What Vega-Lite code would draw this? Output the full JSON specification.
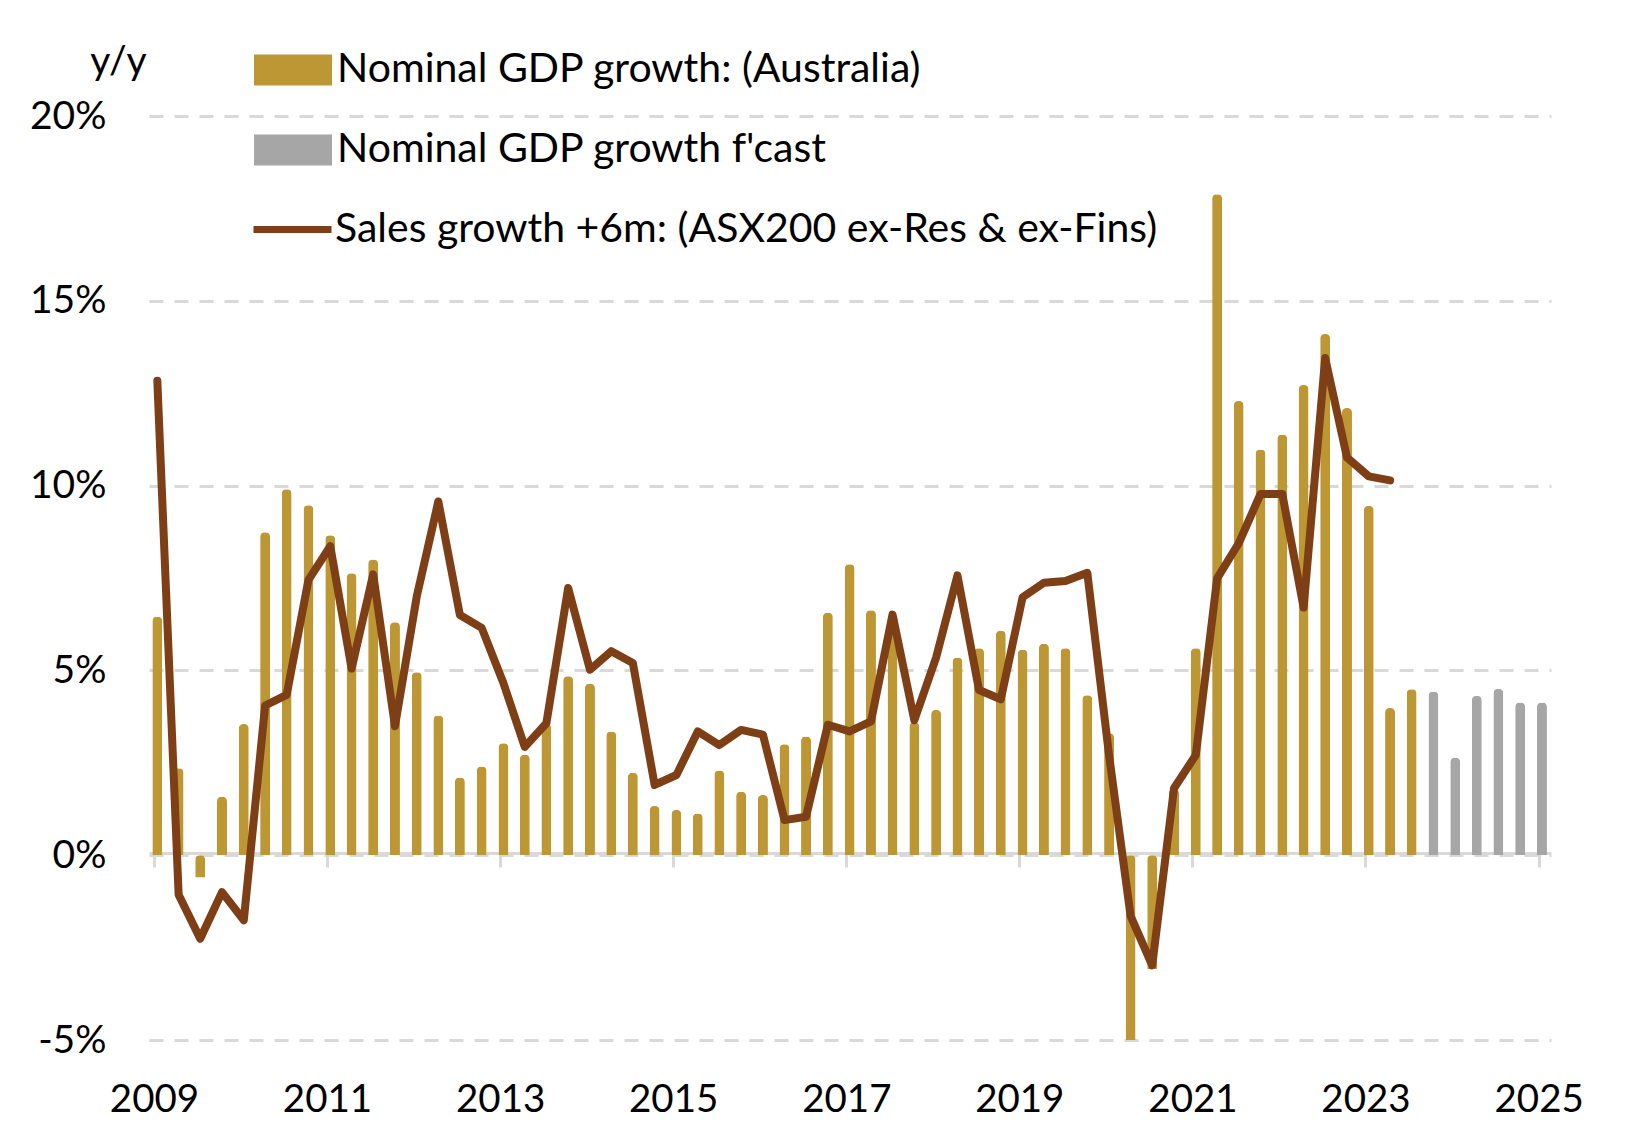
{
  "$schema": "https://vega.github.io/schema/vega-lite/v6.json",
  "description": "Australian nominal GDP growth (actual and forecast bars) against ASX200 ex-Res & ex-Fins sales growth shifted +6m.",
  "width": 1402,
  "height": 924,
  "autosize": {"type": "none"},
  "padding": {"left": 149, "top": 116, "right": 93, "bottom": 106},
  "background": "white",
  "config": {"font": "Lato", "view": {"stroke": null}},
  "datasets": {
    "gdp": [
      {"date": "2009-01-15", "growth": 6.45, "series": "Nominal GDP growth: (Australia)"},
      {"date": "2009-04-15", "growth": 2.35, "series": "Nominal GDP growth: (Australia)"},
      {"date": "2009-07-15", "growth": -0.6, "series": "Nominal GDP growth: (Australia)"},
      {"date": "2009-10-15", "growth": 1.58, "series": "Nominal GDP growth: (Australia)"},
      {"date": "2010-01-15", "growth": 3.55, "series": "Nominal GDP growth: (Australia)"},
      {"date": "2010-04-15", "growth": 8.74, "series": "Nominal GDP growth: (Australia)"},
      {"date": "2010-07-15", "growth": 9.9, "series": "Nominal GDP growth: (Australia)"},
      {"date": "2010-10-15", "growth": 9.47, "series": "Nominal GDP growth: (Australia)"},
      {"date": "2011-01-15", "growth": 8.66, "series": "Nominal GDP growth: (Australia)"},
      {"date": "2011-04-15", "growth": 7.63, "series": "Nominal GDP growth: (Australia)"},
      {"date": "2011-07-15", "growth": 8.0, "series": "Nominal GDP growth: (Australia)"},
      {"date": "2011-10-15", "growth": 6.3, "series": "Nominal GDP growth: (Australia)"},
      {"date": "2012-01-15", "growth": 4.95, "series": "Nominal GDP growth: (Australia)"},
      {"date": "2012-04-15", "growth": 3.78, "series": "Nominal GDP growth: (Australia)"},
      {"date": "2012-07-15", "growth": 2.1, "series": "Nominal GDP growth: (Australia)"},
      {"date": "2012-10-15", "growth": 2.4, "series": "Nominal GDP growth: (Australia)"},
      {"date": "2013-01-15", "growth": 3.03, "series": "Nominal GDP growth: (Australia)"},
      {"date": "2013-04-15", "growth": 2.72, "series": "Nominal GDP growth: (Australia)"},
      {"date": "2013-07-15", "growth": 3.55, "series": "Nominal GDP growth: (Australia)"},
      {"date": "2013-10-15", "growth": 4.84, "series": "Nominal GDP growth: (Australia)"},
      {"date": "2014-01-15", "growth": 4.64, "series": "Nominal GDP growth: (Australia)"},
      {"date": "2014-04-15", "growth": 3.35, "series": "Nominal GDP growth: (Australia)"},
      {"date": "2014-07-15", "growth": 2.23, "series": "Nominal GDP growth: (Australia)"},
      {"date": "2014-10-15", "growth": 1.33, "series": "Nominal GDP growth: (Australia)"},
      {"date": "2015-01-15", "growth": 1.22, "series": "Nominal GDP growth: (Australia)"},
      {"date": "2015-04-15", "growth": 1.13, "series": "Nominal GDP growth: (Australia)"},
      {"date": "2015-07-15", "growth": 2.29, "series": "Nominal GDP growth: (Australia)"},
      {"date": "2015-10-15", "growth": 1.72, "series": "Nominal GDP growth: (Australia)"},
      {"date": "2016-01-15", "growth": 1.63, "series": "Nominal GDP growth: (Australia)"},
      {"date": "2016-04-15", "growth": 3.0, "series": "Nominal GDP growth: (Australia)"},
      {"date": "2016-07-15", "growth": 3.21, "series": "Nominal GDP growth: (Australia)"},
      {"date": "2016-10-15", "growth": 6.56, "series": "Nominal GDP growth: (Australia)"},
      {"date": "2017-01-15", "growth": 7.87, "series": "Nominal GDP growth: (Australia)"},
      {"date": "2017-04-15", "growth": 6.63, "series": "Nominal GDP growth: (Australia)"},
      {"date": "2017-07-15", "growth": 6.51, "series": "Nominal GDP growth: (Australia)"},
      {"date": "2017-10-15", "growth": 3.6, "series": "Nominal GDP growth: (Australia)"},
      {"date": "2018-01-15", "growth": 3.93, "series": "Nominal GDP growth: (Australia)"},
      {"date": "2018-04-15", "growth": 5.35, "series": "Nominal GDP growth: (Australia)"},
      {"date": "2018-07-15", "growth": 5.6, "series": "Nominal GDP growth: (Australia)"},
      {"date": "2018-10-15", "growth": 6.07, "series": "Nominal GDP growth: (Australia)"},
      {"date": "2019-01-15", "growth": 5.56, "series": "Nominal GDP growth: (Australia)"},
      {"date": "2019-04-15", "growth": 5.72, "series": "Nominal GDP growth: (Australia)"},
      {"date": "2019-07-15", "growth": 5.6, "series": "Nominal GDP growth: (Australia)"},
      {"date": "2019-10-15", "growth": 4.33, "series": "Nominal GDP growth: (Australia)"},
      {"date": "2020-01-15", "growth": 3.3, "series": "Nominal GDP growth: (Australia)"},
      {"date": "2020-04-15", "growth": -5.6, "series": "Nominal GDP growth: (Australia)"},
      {"date": "2020-07-15", "growth": -3.08, "series": "Nominal GDP growth: (Australia)"},
      {"date": "2020-10-15", "growth": 1.8, "series": "Nominal GDP growth: (Australia)"},
      {"date": "2021-01-15", "growth": 5.6, "series": "Nominal GDP growth: (Australia)"},
      {"date": "2021-04-15", "growth": 17.88, "series": "Nominal GDP growth: (Australia)"},
      {"date": "2021-07-15", "growth": 12.29, "series": "Nominal GDP growth: (Australia)"},
      {"date": "2021-10-15", "growth": 10.98, "series": "Nominal GDP growth: (Australia)"},
      {"date": "2022-01-15", "growth": 11.38, "series": "Nominal GDP growth: (Australia)"},
      {"date": "2022-04-15", "growth": 12.72, "series": "Nominal GDP growth: (Australia)"},
      {"date": "2022-07-15", "growth": 14.1, "series": "Nominal GDP growth: (Australia)"},
      {"date": "2022-10-15", "growth": 12.1, "series": "Nominal GDP growth: (Australia)"},
      {"date": "2023-01-15", "growth": 9.45, "series": "Nominal GDP growth: (Australia)"},
      {"date": "2023-04-15", "growth": 3.98, "series": "Nominal GDP growth: (Australia)"},
      {"date": "2023-07-15", "growth": 4.49, "series": "Nominal GDP growth: (Australia)"},
      {"date": "2023-10-15", "growth": 4.43, "series": "Nominal GDP growth f'cast"},
      {"date": "2024-01-15", "growth": 2.64, "series": "Nominal GDP growth f'cast"},
      {"date": "2024-04-15", "growth": 4.31, "series": "Nominal GDP growth f'cast"},
      {"date": "2024-07-15", "growth": 4.5, "series": "Nominal GDP growth f'cast"},
      {"date": "2024-10-15", "growth": 4.13, "series": "Nominal GDP growth f'cast"},
      {"date": "2025-01-15", "growth": 4.13, "series": "Nominal GDP growth f'cast"}
    ],
    "sales": [
      {"date": "2009-01-15", "growth": 12.84},
      {"date": "2009-04-15", "growth": -1.07},
      {"date": "2009-07-15", "growth": -2.26},
      {"date": "2009-10-15", "growth": -1.0},
      {"date": "2010-01-15", "growth": -1.76},
      {"date": "2010-04-15", "growth": 4.05},
      {"date": "2010-07-15", "growth": 4.34},
      {"date": "2010-10-15", "growth": 7.45},
      {"date": "2011-01-15", "growth": 8.36},
      {"date": "2011-04-15", "growth": 5.05},
      {"date": "2011-07-15", "growth": 7.6},
      {"date": "2011-10-15", "growth": 3.49},
      {"date": "2012-01-15", "growth": 7.0},
      {"date": "2012-04-15", "growth": 9.57},
      {"date": "2012-07-15", "growth": 6.5},
      {"date": "2012-10-15", "growth": 6.15},
      {"date": "2013-01-15", "growth": 4.65},
      {"date": "2013-04-15", "growth": 2.93},
      {"date": "2013-07-15", "growth": 3.57},
      {"date": "2013-10-15", "growth": 7.23},
      {"date": "2014-01-15", "growth": 5.02},
      {"date": "2014-04-15", "growth": 5.52},
      {"date": "2014-07-15", "growth": 5.2},
      {"date": "2014-10-15", "growth": 1.9},
      {"date": "2015-01-15", "growth": 2.17},
      {"date": "2015-04-15", "growth": 3.35},
      {"date": "2015-07-15", "growth": 2.98},
      {"date": "2015-10-15", "growth": 3.39},
      {"date": "2016-01-15", "growth": 3.26},
      {"date": "2016-04-15", "growth": 0.95},
      {"date": "2016-07-15", "growth": 1.04},
      {"date": "2016-10-15", "growth": 3.53},
      {"date": "2017-01-15", "growth": 3.35},
      {"date": "2017-04-15", "growth": 3.62},
      {"date": "2017-07-15", "growth": 6.51},
      {"date": "2017-10-15", "growth": 3.65},
      {"date": "2018-01-15", "growth": 5.35},
      {"date": "2018-04-15", "growth": 7.57},
      {"date": "2018-07-15", "growth": 4.47},
      {"date": "2018-10-15", "growth": 4.22},
      {"date": "2019-01-15", "growth": 6.98},
      {"date": "2019-04-15", "growth": 7.37},
      {"date": "2019-07-15", "growth": 7.42},
      {"date": "2019-10-15", "growth": 7.64},
      {"date": "2020-01-15", "growth": 2.7},
      {"date": "2020-04-15", "growth": -1.65},
      {"date": "2020-07-15", "growth": -2.98},
      {"date": "2020-10-15", "growth": 1.81},
      {"date": "2021-01-15", "growth": 2.71},
      {"date": "2021-04-15", "growth": 7.49},
      {"date": "2021-07-15", "growth": 8.44},
      {"date": "2021-10-15", "growth": 9.77},
      {"date": "2022-01-15", "growth": 9.77},
      {"date": "2022-04-15", "growth": 6.7},
      {"date": "2022-07-15", "growth": 13.45},
      {"date": "2022-10-15", "growth": 10.76},
      {"date": "2023-01-15", "growth": 10.25},
      {"date": "2023-04-15", "growth": 10.14}
    ]
  },
  "layer": [
    {
      "data": {"name": "gdp"},
      "mark": {"type": "bar", "width": 10, "cornerRadiusEnd": 4.5},
      "encoding": {
        "x": {
          "field": "date",
          "type": "temporal",
          "scale": {
            "type": "utc",
            "domain": [
              {"year": 2009, "month": 1, "date": 1, "utc": true},
              {"year": 2025, "month": 2, "date": 1, "utc": true}
            ]
          },
          "axis": {
            "title": null,
            "values": [
              {"year": 2009, "month": 1, "date": 1, "utc": true},
              {"year": 2011, "month": 1, "date": 1, "utc": true},
              {"year": 2013, "month": 1, "date": 1, "utc": true},
              {"year": 2015, "month": 1, "date": 1, "utc": true},
              {"year": 2017, "month": 1, "date": 1, "utc": true},
              {"year": 2019, "month": 1, "date": 1, "utc": true},
              {"year": 2021, "month": 1, "date": 1, "utc": true},
              {"year": 2023, "month": 1, "date": 1, "utc": true},
              {"year": 2025, "month": 1, "date": 1, "utc": true}
            ],
            "labelExpr": "utcFormat(datum.value, '%Y')",
            "offset": -187,
            "grid": false,
            "domainColor": "#d9d9d9",
            "domainWidth": 3,
            "tickColor": "#d9d9d9",
            "tickWidth": 3,
            "tickSize": 14,
            "labelPadding": 244,
            "labelBaseline": "alphabetic",
            "labelFlush": false,
            "labelOverlap": false,
            "labelFontSize": 38.5,
            "labelColor": "black"
          }
        },
        "y": {
          "field": "growth",
          "type": "quantitative",
          "scale": {"domain": [-5, 20], "nice": false, "clamp": true},
          "axis": {
            "values": [-5, 0, 5, 10, 15, 20],
            "labelExpr": "datum.value + '%'",
            "domain": false,
            "ticks": false,
            "labelPadding": 43,
            "labelFontSize": 39,
            "labelColor": "black",
            "gridColor": "#d9d9d9",
            "gridWidth": 3,
            "gridDash": [14, 11],
            "title": "y/y",
            "titleAngle": 0,
            "titleX": -31,
            "titleY": -43,
            "titleAlign": "center",
            "titleBaseline": "alphabetic",
            "titleFontSize": 39,
            "titleFontWeight": "normal",
            "titleColor": "black"
          }
        },
        "color": {
          "field": "series",
          "type": "nominal",
          "scale": {
            "domain": ["Nominal GDP growth: (Australia)", "Nominal GDP growth f'cast"],
            "range": ["#bd9734", "#a6a6a6"]
          },
          "legend": {
            "title": null,
            "orient": "none",
            "legendX": 105,
            "legendY": -85,
            "direction": "vertical",
            "padding": 0,
            "symbolType": "M-1,-0.4H1V0.4H-1Z",
            "symbolSize": 6084,
            "symbolStrokeWidth": 0,
            "symbolOpacity": 1,
            "rowPadding": 21,
            "labelOffset": 5,
            "labelFontSize": 41,
            "labelLimit": 1200,
            "labelColor": "black"
          }
        }
      }
    },
    {
      "data": {"name": "sales"},
      "transform": [{"calculate": "'Sales growth +6m: (ASX200 ex-Res & ex-Fins)'", "as": "series"}],
      "mark": {"type": "line", "strokeWidth": 8, "strokeJoin": "round", "strokeCap": "round"},
      "encoding": {
        "x": {"field": "date", "type": "temporal"},
        "y": {"field": "growth", "type": "quantitative"},
        "stroke": {
          "field": "series",
          "type": "nominal",
          "scale": {"range": ["#7f3f16"]},
          "legend": {
            "title": null,
            "orient": "none",
            "legendX": 101,
            "legendY": 71,
            "padding": 0,
            "symbolType": "stroke",
            "symbolSize": 6084,
            "symbolStrokeWidth": 7,
            "labelOffset": 0,
            "labelFontSize": 41,
            "labelLimit": 1200,
            "labelColor": "black"
          }
        }
      }
    }
  ]
}
